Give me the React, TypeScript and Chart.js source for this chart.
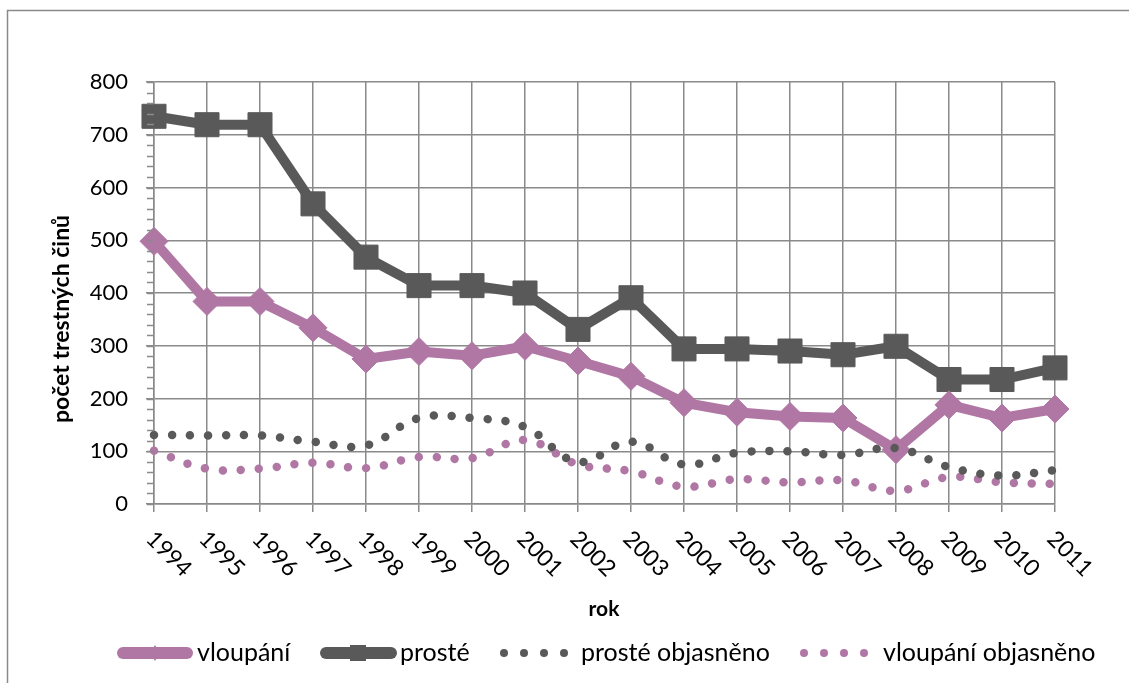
import React, { useEffect, useRef } from 'react';
import { Chart, registerables } from 'chart.js';

Chart.register(...registerables);

const years = ['1994', '1995', '1996', '1997', '1998', '1999', '2000', '2001', '2002', '2003', '2004', '2005', '2006', '2007', '2008', '2009', '2010', '2011'];
const vloupani = [498, 384, 384, 334, 275, 289, 281, 299, 271, 242, 192, 174, 166, 163, 103, 188, 163, 180];
const proste = [735, 719, 719, 569, 468, 414, 414, 400, 331, 391, 294, 294, 290, 283, 299, 236, 236, 258];
const prosteObjasneno = [131, 130, 130, 118, 111, 163, 163, 146, 80, 118, 75, 97, 100, 93, 106, 70, 54, 64];
const vloupaniObjasneno = [101, 67, 67, 78, 68, 89, 87, 121, 75, 62, 33, 47, 41, 45, 25, 51, 41, 38];
const yTickValues = [0, 100, 200, 300, 400, 500, 600, 700, 800];
const seriesNames = ['vloupání', 'prosté', 'prosté objasněno', 'vloupání objasněno'];
const xTitle = 'rok';
const yTitle = 'počet trestných činů';

const PINK = '#B077A4';
const DARK = '#595959';
const GRID = '#8a8a8a';
const FONT = 'Lato, "Open Sans", sans-serif';

const decoPlugin = {
  id: 'deco',
  beforeDraw(chart: any) {
    const ctx = chart.ctx;
    ctx.save();
    ctx.fillStyle = '#fff';
    ctx.fillRect(0, 0, chart.width, chart.height);
    ctx.strokeStyle = GRID;
    ctx.lineWidth = 1.5;
    ctx.beginPath();
    ctx.moveTo(7.5, chart.height);
    ctx.lineTo(7.5, 10.5);
    ctx.lineTo(chart.width, 10.5);
    ctx.stroke();
    ctx.restore();
  },
  afterDraw(chart: any) {
    const { ctx, chartArea, scales } = chart;
    const ys = scales.y;
    const xs = scales.x;
    ctx.save();
    // minor ticks
    ctx.strokeStyle = GRID;
    ctx.lineWidth = 1.5;
    for (let v = 0; v <= 800; v += 20) {
      const py = Math.round(ys.getPixelForValue(v)) + 0.5;
      ctx.beginPath();
      ctx.moveTo(chartArea.left - 7, py);
      ctx.lineTo(chartArea.left, py);
      ctx.stroke();
    }
    // y labels
    ctx.fillStyle = '#000';
    ctx.font = `22px ${FONT}`;
    ctx.textAlign = 'right';
    ctx.textBaseline = 'middle';
    yTickValues.forEach((v) => ctx.fillText(String(v), 128, ys.getPixelForValue(v)));
    // x labels rotated
    ctx.font = `23px ${FONT}`;
    ctx.textAlign = 'left';
    years.forEach((lab, i) => {
      const px = xs.getPixelForValue(i);
      ctx.save();
      ctx.translate(px - 4, 535);
      ctx.rotate(Math.PI / 4);
      ctx.fillText(lab, 0, 0);
      ctx.restore();
    });
    // axis titles
    ctx.font = `bold 21px ${FONT}`;
    ctx.textAlign = 'center';
    ctx.fillText(xTitle, 604, 609);
    ctx.font = `bold 23px ${FONT}`;
    ctx.save();
    ctx.translate(62, 319);
    ctx.rotate(-Math.PI / 2);
    ctx.fillText(yTitle, 0, 0);
    ctx.restore();

    // legend
    const ly = 653;
    ctx.lineCap = 'round';
    // vloupání
    ctx.strokeStyle = PINK;
    ctx.lineWidth = 12;
    ctx.beginPath();
    ctx.moveTo(123, ly);
    ctx.lineTo(187, ly);
    ctx.stroke();
    ctx.fillStyle = PINK;
    ctx.beginPath();
    ctx.moveTo(155, ly - 8);
    ctx.lineTo(160, ly);
    ctx.lineTo(155, ly + 8);
    ctx.lineTo(150, ly);
    ctx.closePath();
    ctx.fill();
    // prosté
    ctx.strokeStyle = DARK;
    ctx.beginPath();
    ctx.moveTo(326, ly);
    ctx.lineTo(391, ly);
    ctx.stroke();
    ctx.fillStyle = DARK;
    ctx.fillRect(350, ly - 8, 16, 16);
    // dotted samples
    const dots = (x0: number, color: string) => {
      ctx.fillStyle = color;
      for (let k = 0; k < 4; k++) {
        ctx.beginPath();
        ctx.arc(x0 + k * 20, ly, 4, 0, Math.PI * 2);
        ctx.fill();
      }
    };
    dots(504, DARK);
    dots(804, PINK);
    // legend texts
    ctx.fillStyle = '#000';
    ctx.font = `25px ${FONT}`;
    ctx.textAlign = 'left';
    ctx.textBaseline = 'middle';
    ctx.fillText(seriesNames[0], 197, ly);
    ctx.fillText(seriesNames[1], 400, ly);
    ctx.fillText(seriesNames[2], 581, ly);
    ctx.fillText(seriesNames[3], 883, ly);
    ctx.restore();
  },
};

export default function App() {
  const ref = useRef<HTMLCanvasElement>(null);
  useEffect(() => {
    if (!ref.current) return;
    const chart = new Chart(ref.current, {
      type: 'line',
      data: {
        labels: years,
        datasets: [
          {
            label: seriesNames[2],
            data: prosteObjasneno,
            borderColor: DARK,
            borderWidth: 8.5,
            borderDash: [0.001, 18],
            borderCapStyle: 'round',
            pointRadius: 0,
            tension: 0.4,
            order: 0,
            clip: false,
          },
          {
            label: seriesNames[3],
            data: vloupaniObjasneno,
            borderColor: PINK,
            borderWidth: 8.5,
            borderDash: [0.001, 18],
            borderCapStyle: 'round',
            pointRadius: 0,
            tension: 0.4,
            order: 1,
            clip: false,
          },
          {
            label: seriesNames[0],
            data: vloupani,
            borderColor: PINK,
            backgroundColor: PINK,
            borderWidth: 10,
            pointStyle: 'rectRot',
            pointRadius: 14,
            pointBorderWidth: 1,
            pointBorderColor: PINK,
            pointBackgroundColor: PINK,
            tension: 0,
            order: 2,
            clip: false,
          },
          {
            label: seriesNames[1],
            data: proste,
            borderColor: DARK,
            backgroundColor: DARK,
            borderWidth: 10,
            pointStyle: 'rect',
            pointRadius: 17,
            pointBorderWidth: 1,
            pointBorderColor: DARK,
            pointBackgroundColor: DARK,
            tension: 0,
            order: 3,
            clip: false,
          },
        ],
      },
      options: {
        animation: false,
        responsive: false,
        maintainAspectRatio: false,
        events: [],
        layout: { padding: { left: 146, right: 74, top: 82, bottom: 171 } },
        plugins: { legend: { display: false }, tooltip: { enabled: false }, title: { display: false } },
        scales: {
          x: {
            offset: false,
            grid: { offset: false, color: GRID, lineWidth: 1.5, tickLength: 8, drawTicks: true },
            border: { color: GRID, width: 1.5 },
            ticks: { display: false },
          },
          y: {
            min: 0,
            max: 800,
            ticks: { display: false, stepSize: 100 },
            grid: { color: GRID, lineWidth: 1.5, tickLength: 8, drawTicks: true },
            border: { color: GRID, width: 1.5 },
          },
        },
      },
      plugins: [decoPlugin],
    });
    return () => chart.destroy();
  }, []);
  return (
    <div style={{ position: 'fixed', left: 0, top: 0, width: 1129, height: 683, background: '#fff' }}>
      <canvas ref={ref} width={1129} height={683} style={{ width: 1129, height: 683, display: 'block' }} />
    </div>
  );
}
